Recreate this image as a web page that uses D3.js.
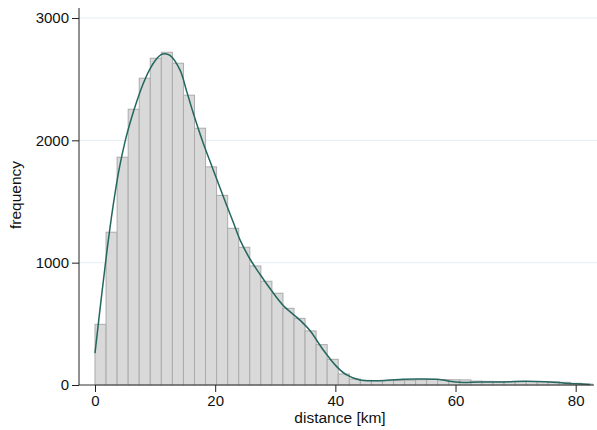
<!DOCTYPE html>
<html>
<head>
<meta charset="utf-8">
<script src="https://cdn.jsdelivr.net/npm/d3@7"></script>
<style>
  html, body { margin: 0; padding: 0; background: #fff; }
  svg { display: block; }
  text { font-family: "Liberation Sans", Arial, Helvetica, sans-serif; fill: #111; }
</style>
</head>
<body>
<svg id="chart" width="597" height="430"></svg>
<script>
// ---- data ----
const binWidth = 1.84; // km
const binCounts = [496, 1249, 1862, 2254, 2508, 2671, 2720, 2630, 2369, 2099,
                   1783, 1550, 1281, 1126, 973, 848, 750, 627, 545, 442,
                   330, 210, 90, 49, 38, 35, 35, 36, 38, 43,
                   46, 45, 43, 42, 32, 30, 28, 27, 26, 28,
                   28, 26, 22, 14, 8];
const densityKm = [0, 1, 2, 3, 4, 5, 6, 7, 8, 9,
                   10, 11, 11.6, 12.48, 14.14, 15.26, 16.36, 18.02, 19.68, 21.35,
                   23.01, 24.13, 25.79, 27.45, 29.40, 31.33, 34.11, 35.77, 37.99, 40.22,
                   41.88, 44.09, 46.31, 48.54, 51.30, 53.53, 56.86, 58.52, 60.73, 64.06,
                   67.39, 71.21, 74.88, 78.2, 80.15, 82.36];
const densityFreq = [260, 690, 1100, 1460, 1760, 1990, 2170, 2325, 2460, 2570,
                     2650, 2700, 2708, 2695, 2576, 2400, 2222, 1976, 1758, 1540,
                     1330, 1186, 1030, 905, 770, 650, 530, 445, 286, 150,
                     82, 41, 35, 38, 46, 49, 47, 35, 22, 25,
                     24, 30, 27, 15, 10, 5];
const xTicks = [0, 20, 40, 60, 80];
const yTicks = [0, 1000, 2000, 3000];
const xLabel = "distance [km]";
const yLabel = "frequency";

// ---- drawing ----
const svg = d3.select("#chart");
const x = d3.scaleLinear().domain([0, 80]).range([95, 575.7]);
const y = d3.scaleLinear().domain([0, 3000]).range([385, 18]);
const plotLeft = 79, plotRight = 594, plotTop = 8;

// gridlines
svg.append("g").selectAll("line").data(yTicks.filter(d => d > 0)).join("line")
  .attr("x1", plotLeft).attr("x2", 597)
  .attr("y1", d => y(d)).attr("y2", d => y(d))
  .attr("stroke", "#e4eef1").attr("stroke-width", 1);

// bars
svg.append("g").selectAll("rect").data(binCounts).join("rect")
  .attr("x", (d, i) => x(i * binWidth))
  .attr("width", (d, i) => x((i + 1) * binWidth) - x(i * binWidth))
  .attr("y", d => y(d))
  .attr("height", d => y(0) - y(d))
  .attr("fill", "#d9d9d9")
  .attr("stroke", "#ababab")
  .attr("stroke-width", 1);

// density curve
const pts = densityKm.map((k, i) => [k, densityFreq[i]]);
svg.append("path")
  .datum(pts)
  .attr("d", d3.line().x(d => x(d[0])).y(d => y(d[1])).curve(d3.curveCatmullRom.alpha(0.5)))
  .attr("fill", "none")
  .attr("stroke", "#23675f")
  .attr("stroke-width", 1.5);

// x axis
const xAxis = svg.append("g").attr("transform", "translate(0,385)")
  .call(d3.axisBottom(x).tickValues(xTicks).tickFormat(d3.format("d")).tickSize(7).tickPadding(3));
xAxis.select(".domain").remove();
xAxis.append("line").attr("x1", plotLeft).attr("x2", plotRight).attr("y1", 0).attr("y2", 0)
  .attr("stroke", "#333").attr("stroke-width", 1);
xAxis.selectAll(".tick line").attr("stroke", "#222");
xAxis.selectAll(".tick text").style("font-size", "15px").style("fill", "#111")
  .style("font-family", "'Liberation Sans', Arial, sans-serif");

// y axis
const yAxis = svg.append("g").attr("transform", "translate(" + plotLeft + ",0)")
  .call(d3.axisLeft(y).tickValues(yTicks).tickFormat(d3.format("d")).tickSize(7).tickPadding(3));
yAxis.select(".domain").remove();
yAxis.append("line").attr("x1", 0).attr("x2", 0).attr("y1", plotTop).attr("y2", 385)
  .attr("stroke", "#222").attr("stroke-width", 1);
yAxis.selectAll(".tick line").attr("stroke", "#222");
yAxis.selectAll(".tick text").style("font-size", "15px").style("fill", "#111")
  .style("font-family", "'Liberation Sans', Arial, sans-serif");

// axis titles
svg.append("text").attr("x", 340).attr("y", 423).attr("text-anchor", "middle")
  .style("font-size", "15.5px").text(xLabel);
svg.append("text").attr("transform", "translate(21,195) rotate(-90)").attr("text-anchor", "middle")
  .style("font-size", "15.5px").text(yLabel);
</script>
</body>
</html>
